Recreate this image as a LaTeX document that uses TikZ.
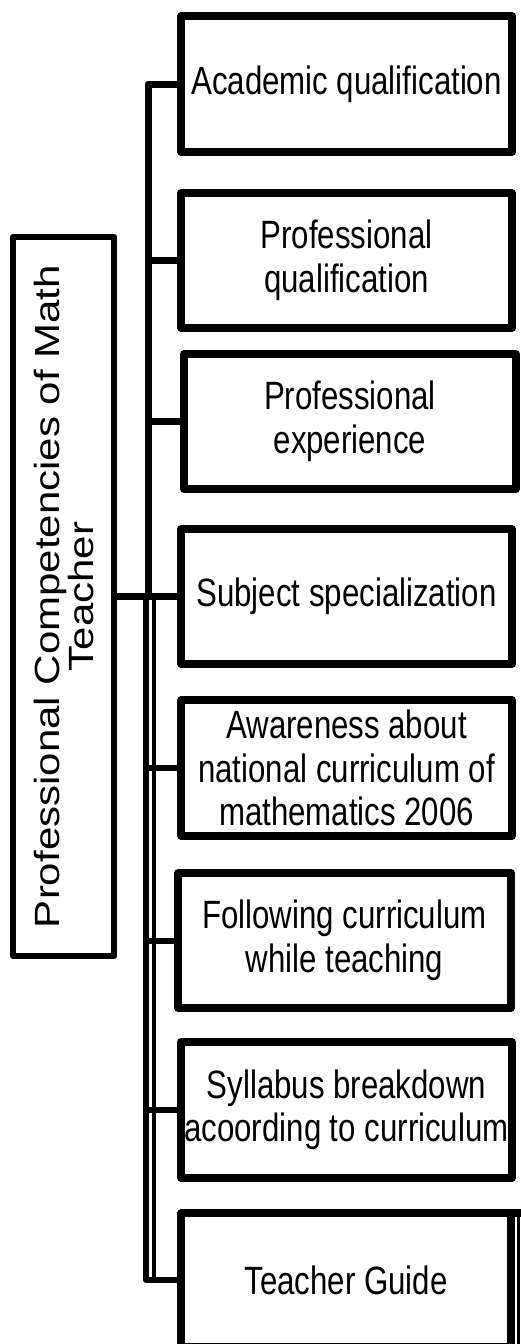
\documentclass[tikz,border=0pt]{standalone}
\usepackage{fontspec}
\setmainfont{Liberation Sans}
\newfontfamily\narrowfont[FakeStretch=0.79]{Liberation Sans}
\newfontfamily\widefont[FakeStretch=1.2]{Liberation Sans}
\begin{document}
\begin{tikzpicture}[x=1pt,y=-1pt,
  box/.style={draw, line width=7.5pt, line join=round, inner sep=0pt,
    minimum width=331pt, minimum height=136pt, align=center,
    font=\narrowfont\fontsize{39.5}{43.5}\selectfont},
  rootbox/.style={draw, line width=6.5pt, line join=round, inner sep=0pt, rotate=90,
    minimum width=719pt, minimum height=101pt, align=center,
    font=\widefont\fontsize{35}{34}\selectfont},
  conn/.style={draw, line width=7pt, line join=round},
  connA/.style={draw, line width=6pt, line join=round},
  connB/.style={draw, line width=4.5pt, line join=round}]
\fill[white] (0,0) rectangle (521,1344);
\clip (0,0) rectangle (521,1344);

\node[rootbox] (root) at (63.5,596.5) {Professional Competencies of Math\\Teacher};

\node[box] (b1) at (346.5,84) {Academic qualification};
\node[box, minimum height=135pt] (b2) at (346.5,260.5) {Professional\\qualification};
\node[box, minimum width=332pt, minimum height=135pt] (b3) at (350,421.5) {Professional\\experience};
\node[box, minimum height=135pt] (b4) at (346.5,596.5) {Subject specialization};
\node[box] (b5) at (346.5,768) {Awareness about\\national curriculum of\\mathematics 2006};
\node[box, minimum width=333pt, minimum height=135pt] (b6) at (344.5,940.5) {Following curriculum\\while teaching};
\node[box] (b7) at (346.5,1110) {Syllabus breakdown\\acoording to curriculum};
\node[box, minimum width=330pt, minimum height=134pt] (b8) at (346,1280) {Teacher Guide};

\coordinate (tk) at (148,0);
\coordinate (tkA) at (146,0);
\coordinate (tkB) at (154,0);

% upper trunk and branches
\draw[conn] (b1.west) -| (root.south -| tk);
\draw[conn] (b2.west) -- (b2.west -| tk);
\draw[conn] (b3.west) -- (b3.west -| tk);
\draw[conn] (root.south) -- (b4.west);
% lower doubled trunk
\draw[connA] (root.south -| tkA) |- (b8.west);
\draw[connB] (root.south -| tkB) -- (b8.west -| tkB);
\draw[connA] (b5.west) -- (b5.west -| tkA);
\draw[connA] (b6.west) -- (b6.west -| tkA);
\draw[connA] (b7.west) -- (b7.west -| tkA);

% edge artefact at the last box
\draw[line width=7.5pt] (510,1213) -- (522,1213);
\draw[line width=2.5pt] (518.5,1213) -- (518.5,1350);
\end{tikzpicture}
\end{document}
